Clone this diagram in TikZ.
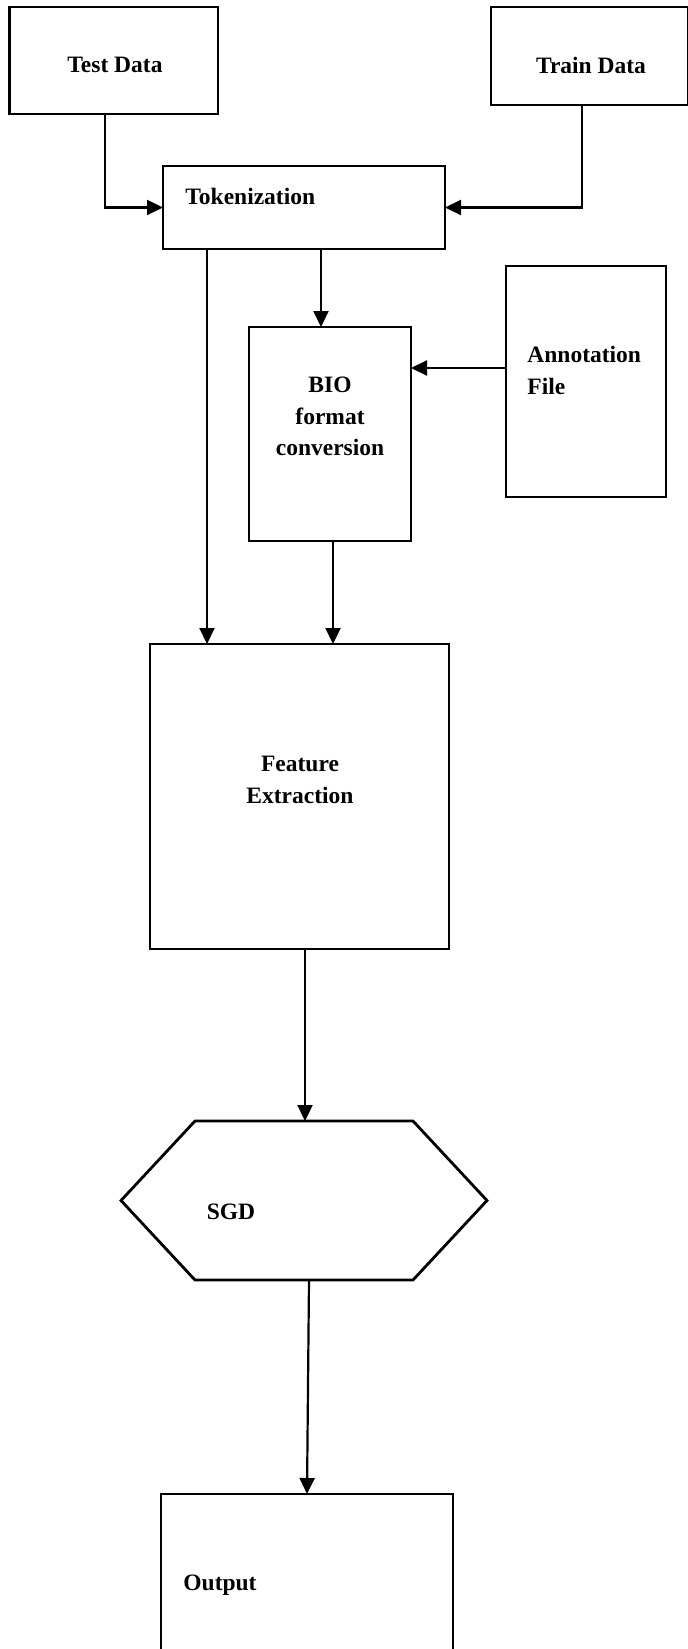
\documentclass[tikz,border=0pt]{standalone}
\usepackage{fontspec}
\setmainfont{Liberation Serif}
\usetikzlibrary{arrows.meta, positioning, calc}

\tikzset{
  box/.style={draw, rectangle, line width=1.4pt, outer sep=0pt, inner sep=0pt},
  lbl/.style={font=\fontsize{11.75}{15.8}\selectfont\bfseries, inner sep=0pt, align=center},
  arr/.style={line width=1.1pt, -{Triangle[length=8pt,width=7.5pt]}},
}

\begin{document}
\begin{tikzpicture}[x=0.5pt, y=-0.5pt]
\useasboundingbox (0,0) rectangle (687,1649);
% Boxes
\node[box, minimum width=104.25pt, minimum height=53.5pt] (test) at (113.75,60.5) {};
\node[box, minimum width=98.5pt, minimum height=49pt] (train) at (589.5,56) {};
\node[box, minimum width=141pt, minimum height=41.5pt] (tok) at (304,207.5) {};
\node[box, minimum width=81pt, minimum height=107pt] (bio) at (330,434) {};
\node[box, minimum width=80pt, minimum height=115.5pt] (annot) at (586,381.5) {};
\node[box, minimum width=149.5pt, minimum height=152.5pt] (feat) at (299.5,796.5) {};
\node[box, minimum width=146pt, minimum height=103pt] (out) at (307,1597) {};

% SGD hexagon
\node[minimum width=183pt, minimum height=79.5pt, outer sep=0pt, inner sep=0pt] (sgd) at (304,1200.5) {};
\draw[line width=1.4pt] ([xshift=37pt]sgd.north west) -- ([xshift=-37pt]sgd.north east) -- (sgd.east)
   -- ([xshift=-37pt]sgd.south east) -- ([xshift=37pt]sgd.south west) -- (sgd.west) -- cycle;

% Texts
\node[lbl] (testtxt) at ($(test.center)+(1.25,4.5)$) {Test Data};
\node[lbl] (traintxt) at ($(train.center)+(1.5,9)$) {Train Data};
\node[lbl, anchor=west] (toktxt) at (185,196) {Tokenization};
\node[lbl] (biotxt) at ($(bio.center)+(0,-17.5)$) {BIO\\format\\conversion};
\node[lbl, anchor=west, align=left] (annottxt) at (527,370.5) {Annotation\\File};
\node[lbl] (feattxt) at ($(feat.center)+(0.5,-16.5)$) {Feature\\Extraction};
\node[lbl] (sgdtxt) at (231,1212) {SGD};
\node[lbl, anchor=west] (outtxt) at (183,1585) {Output};

% Connectors
\coordinate (c1) at ([xshift=-4.5pt]bio.north);
\coordinate (c2) at ([yshift=6.75pt]annot.west);
\coordinate (c3) at ([xshift=-46.25pt]feat.north);
\coordinate (c4) at ([xshift=1.5pt]bio.south);
\draw[arr] ([xshift=-4.4pt]test.south) |- (tok.west);
\draw[arr] ([xshift=-3.75pt]train.south) |- (tok.east);
\draw[arr] (c1 |- tok.south) -- (c1);
\draw[arr] (c2) -- (c2 -| bio.east);
\draw[arr] (c3 |- tok.south) -- (c3);
\draw[arr] (c4) -- (c4 |- feat.north);
\draw[arr] ([xshift=2.75pt]feat.south) -- ([xshift=0.5pt]sgd.north);
\draw[arr] ([xshift=2.5pt]sgd.south) -- (out.north);
\end{tikzpicture}
\end{document}
